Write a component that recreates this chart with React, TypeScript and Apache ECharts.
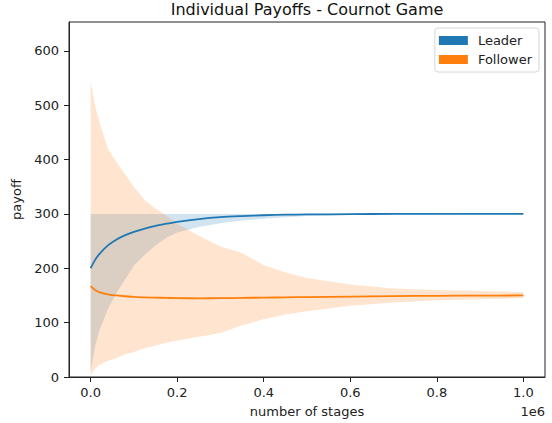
import React, { useEffect, useRef } from "react";
import * as echarts from "echarts";

const stages = [0, 10000, 20000, 40000, 60000, 80000, 100000, 125000, 150000, 175000, 200000, 250000, 300000, 350000, 400000, 450000, 500000, 600000, 700000, 800000, 900000, 1000000];
const leaderMean = [200, 215, 226, 242, 253, 261, 267, 273, 278, 282, 285.5, 290.5, 294, 296, 297.5, 298.5, 299, 299.5, 300, 300, 300, 300];
const leaderLow = [10, 55, 85, 125, 155, 180, 205, 225, 242, 256, 266, 276, 283, 288, 291, 294, 296, 298, 299, 299.5, 300, 300];
const leaderHigh = [300, 300, 300, 300, 300, 300, 300, 300, 300, 300, 300, 300, 300, 300, 300, 300, 300, 300, 300, 300, 300, 300];
const followerMean = [167, 160, 156, 152, 150, 148.5, 147.5, 146.5, 146, 145.5, 145, 144.8, 145, 145.5, 146, 146.5, 147, 148, 148.8, 149.3, 149.7, 150];
const followerLow = [3, 15, 22, 30, 35, 42, 46, 53, 58, 63, 67, 74, 81, 95, 106, 115, 121, 131, 137, 141, 143, 145];
const followerHigh = [545, 500, 470, 420, 395, 372, 350, 325, 310, 297, 282, 260, 240, 228, 206, 192, 182, 170, 163, 160, 158, 156];
const xTicks = [0, 200000, 400000, 600000, 800000, 1000000];
const yTicks = [0, 100, 200, 300, 400, 500, 600];

const BLUE = "#1f77b4";
const ORANGE = "#ff7f0e";
const FONT = "DejaVu Sans";
const INK = "#222";

function bandSeries(low: number[], high: number[], color: string) {
  return {
    type: "custom",
    silent: true,
    clip: true,
    data: stages.map((x, i) => [x, low[i], high[i]]),
    encode: { x: 0, y: [1, 2] },
    renderItem: (params: any, api: any) => {
      if (params.dataIndex !== 0) return null;
      const pts: number[][] = [];
      for (let i = 0; i < stages.length; i++) pts.push(api.coord([stages[i], high[i]]));
      for (let i = stages.length - 1; i >= 0; i--) pts.push(api.coord([stages[i], low[i]]));
      return {
        type: "polygon",
        shape: { points: pts },
        style: { fill: color, opacity: 0.2 },
      };
    },
  };
}

export default function App() {
  const ref = useRef<HTMLDivElement>(null);
  useEffect(() => {
    if (!ref.current) return;
    const chart = echarts.init(ref.current, undefined, { renderer: "svg" });
    chart.setOption({
      animation: false,
      textStyle: { fontFamily: FONT },
      grid: {
        left: 69,
        right: 7,
        top: 22,
        bottom: 46,
        outerBoundsMode: "none",
        containLabel: false,
        show: true,
        borderColor: INK,
        borderWidth: 1,
        backgroundColor: "transparent",
      },
      legend: {
        data: ["Leader", "Follower"],
        orient: "vertical",
        right: 13,
        top: 28,
        icon: "rect",
        itemWidth: 29,
        itemHeight: 9,
        itemGap: 6,
        padding: [6, 7, 6, 4],
        borderColor: "#d6d6d6",
        borderWidth: 1,
        borderRadius: 3,
        backgroundColor: "rgba(255,255,255,0.8)",
        textStyle: { fontFamily: FONT, fontSize: 13, color: INK, padding: [0, 0, 0, 5] },
      },
      xAxis: {
        type: "value",
        min: -50000,
        max: 1050000,
        name: "number of stages",
        nameLocation: "middle",
        nameGap: 28,
        nameTextStyle: { fontFamily: FONT, fontSize: 13, color: INK },
        splitLine: { show: false },
        axisLine: { show: true, onZero: false, lineStyle: { color: INK } },
        axisTick: { show: true, length: 5, customValues: xTicks, lineStyle: { color: INK } },
        axisLabel: {
          customValues: xTicks,
          margin: 9,
          fontFamily: FONT,
          fontSize: 13,
          color: INK,
          formatter: (v: number) => (v / 1e6).toFixed(1),
        },
      },
      yAxis: {
        type: "value",
        min: 0,
        max: 653,
        name: "payoff",
        nameLocation: "middle",
        nameRotate: 90,
        nameGap: 39,
        nameTextStyle: { fontFamily: FONT, fontSize: 13, color: INK },
        splitLine: { show: false },
        axisLine: { show: true, onZero: false, lineStyle: { color: INK } },
        axisTick: { show: true, length: 5, customValues: yTicks, lineStyle: { color: INK } },
        axisLabel: {
          customValues: yTicks,
          margin: 10,
          fontFamily: FONT,
          fontSize: 13,
          color: INK,
        },
      },
      graphic: [
        {
          type: "text",
          x: 307,
          y: 9,
          style: {
            text: "Individual Payoffs - Cournot Game",
            fontFamily: FONT,
            fontSize: 16,
            fill: "#111",
            textAlign: "center",
            textVerticalAlign: "middle",
          },
        },
        {
          type: "text",
          x: 545,
          y: 411,
          style: {
            text: "1e6",
            fontFamily: FONT,
            fontSize: 13,
            fill: INK,
            textAlign: "right",
            textVerticalAlign: "middle",
          },
        },
      ],
      series: [
        bandSeries(leaderLow, leaderHigh, BLUE),
        {
          name: "Leader",
          type: "line",
          data: stages.map((x, i) => [x, leaderMean[i]]),
          showSymbol: false,
          smooth: 0.3,
          lineStyle: { color: BLUE, width: 1.8 },
          itemStyle: { color: BLUE },
        },
        bandSeries(followerLow, followerHigh, ORANGE),
        {
          name: "Follower",
          type: "line",
          data: stages.map((x, i) => [x, followerMean[i]]),
          showSymbol: false,
          smooth: 0.3,
          lineStyle: { color: ORANGE, width: 1.8 },
          itemStyle: { color: ORANGE },
        },
      ],
    });
    return () => chart.dispose();
  }, []);
  return <div ref={ref} style={{ width: 552, height: 423, position: "absolute", left: 0, top: 0 }} />;
}
